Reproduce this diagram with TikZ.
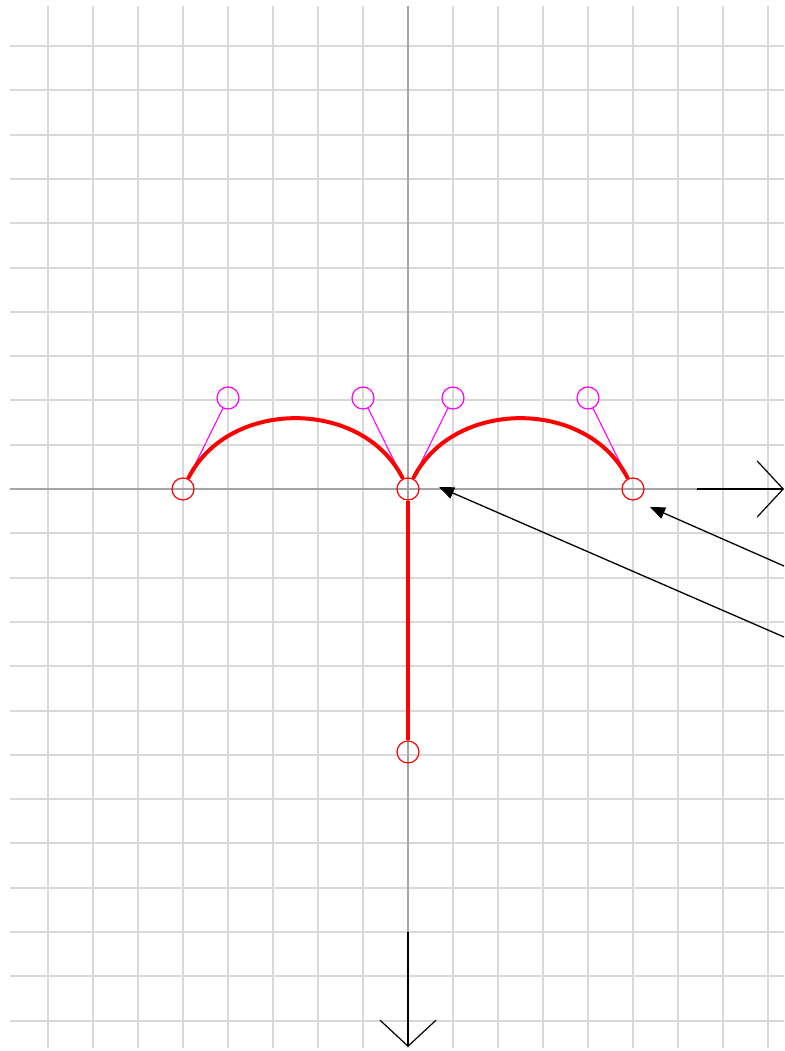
\documentclass[tikz,border=0pt]{standalone}
\usetikzlibrary{arrows.meta}
\definecolor{gridgray}{RGB}{217,217,217}
\definecolor{axisgray}{RGB}{165,165,165}
\definecolor{ctrlmag}{RGB}{255,0,255}
\begin{document}
\begin{tikzpicture}[x=1pt,y=-1pt,
  gridline/.style={draw=gridgray,line width=2pt},
  axisline/.style={draw=axisgray,line width=1.8pt},
  axisarrow/.style={draw=black,line width=1.6pt,-{Straight Barb[length=26pt,width=56pt,line width=1.2pt]}},
  endpt/.style={circle,draw=red,line width=1.2pt,minimum size=22pt,inner sep=0pt},
  ctrlpt/.style={circle,draw=ctrlmag,line width=1.2pt,minimum size=22pt,inner sep=0pt},
  curveline/.style={draw=red,line width=4pt},
  handle/.style={draw=ctrlmag,line width=1.1pt},
  callout/.style={draw=black,line width=1.3pt,-{Triangle[length=15pt,width=12pt]}}]
\useasboundingbox (0,0) rectangle (784,1051);
\fill[white] (0,0) rectangle (784,1051);
% grid
\foreach \i in {-8,...,8}
  \draw[gridline] ({408+44.94*\i},6) -- ({408+44.94*\i},1048);
\foreach \j in {-10,...,12}
  \draw[gridline] (10,{489+44.3*\j}) -- (784,{489+44.3*\j});
% axes
\draw[axisline] (10,489) -- (697,489);
\draw[axisline] (408,6) -- (408,932);
\coordinate (xs) at (697,489);
\coordinate (xe) at (784,489);
\coordinate (ys) at (408,932);
\coordinate (ye) at (408,1047);
\draw[axisarrow] (xs) -- (xe);
\draw[axisarrow] (ys) -- (ye);
% points
\node[endpt] (p0) at (183,489) {};
\node[endpt] (p1) at (408,489) {};
\node[endpt] (p2) at (633,489) {};
\node[endpt] (p3) at (408,752) {};
\node[ctrlpt] (c1) at (228,398) {};
\node[ctrlpt] (c2) at (363,398) {};
\node[ctrlpt] (c3) at (453,398) {};
\node[ctrlpt] (c4) at (588,398) {};
% handles
\draw[handle] (p0) -- (c1);
\draw[handle] (p1) -- (c2);
\draw[handle] (p1) -- (c3);
\draw[handle] (p2) -- (c4);
% curves
\draw[curveline] (p0) .. controls (c1.center) and (c2.center) .. (p1);
\draw[curveline] (p1) .. controls (c3.center) and (c4.center) .. (p2);
\draw[curveline] (p1) -- (p3);
% callouts
\coordinate (s1) at (784,637);
\coordinate (t1) at (439,487);
\coordinate (s2) at (784,566);
\coordinate (t2) at (650,507);
\draw[callout] (s1) -- (t1);
\draw[callout] (s2) -- (t2);
\end{tikzpicture}
\end{document}
